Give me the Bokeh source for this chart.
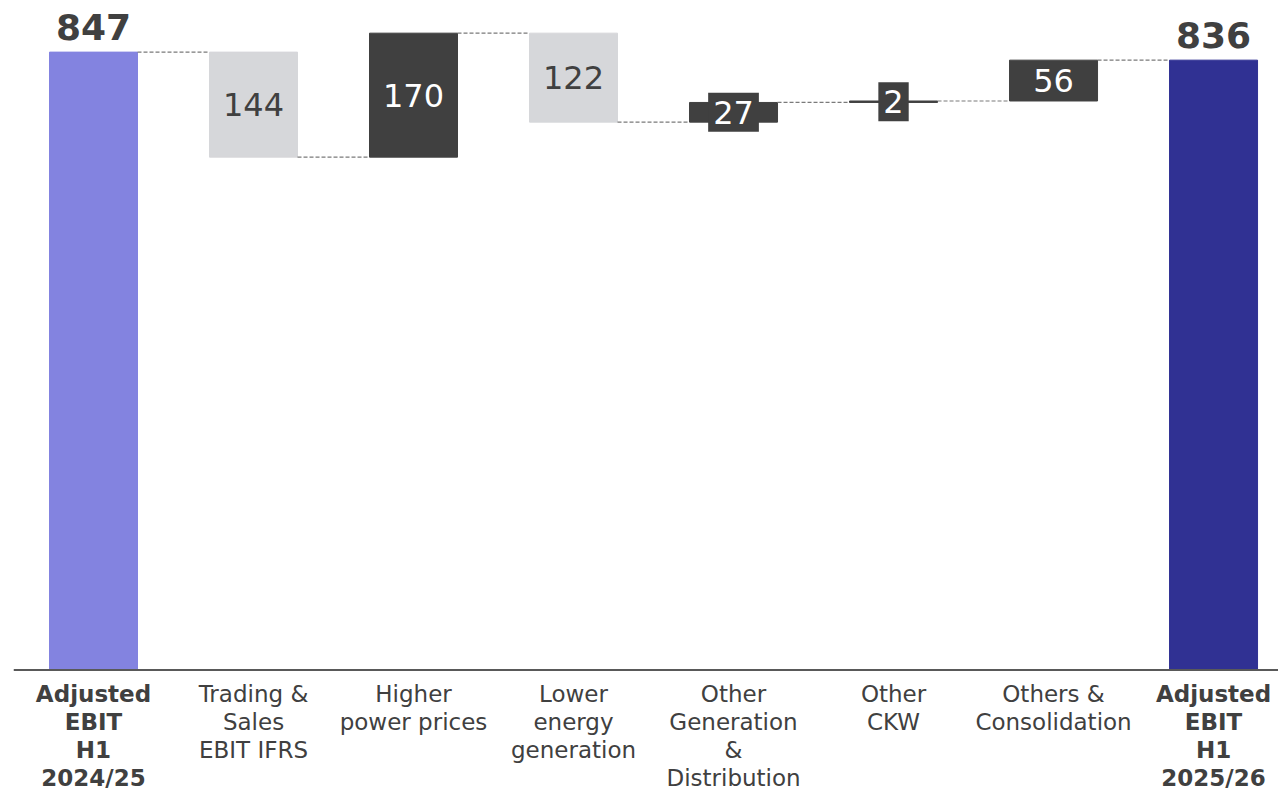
import numpy as np
from bokeh.plotting import figure
from bokeh.models import Range1d, Span, ColumnDataSource
from bokeh.core.properties import value
from bokeh.embed import file_html
from bokeh.resources import INLINE

# ---- data ----
categories = [
    "Adjusted\nEBIT\nH1\n2024/25",
    "Trading &\nSales\nEBIT IFRS",
    "Higher\npower prices",
    "Lower\nenergy\ngeneration",
    "Other\nGeneration\n&\nDistribution",
    "Other\nCKW",
    "Others &\nConsolidation",
    "Adjusted\nEBIT\nH1\n2025/26",
]
start_total = 847
deltas = [-144, 170, -122, 27, 2, 56]
end_total = 836

FONT = value("DejaVu Sans")
TXT = "#404040"

n = len(categories)
xs = np.arange(n)
cum = np.concatenate([[start_total], start_total + np.cumsum(deltas)])

p = figure(width=1278, height=793, output_backend="svg", toolbar_location=None,
           x_range=Range1d(-0.5, 7.406), y_range=Range1d(-169.3, 906.8),
           min_border_left=13, min_border_right=0, min_border_top=8, min_border_bottom=0)
p.outline_line_color = None
p.xgrid.visible = False
p.ygrid.visible = False
p.xaxis.visible = False
p.yaxis.visible = False
p.background_fill_color = "white"
p.border_fill_color = "white"

W = 0.55

# total bars
tot = ColumnDataSource(dict(x=[xs[0], xs[-1]], top=[start_total, end_total],
                            color=["#8383E0", "#303193"],
                            label=[str(start_total), str(end_total)]))
p.vbar(x="x", top="top", bottom=0, width=W, fill_color="color", line_color="color", source=tot)
p.text(x="x", y="top", text="label", source=tot, text_align="center", text_baseline="bottom",
       y_offset=-12, text_font=FONT, text_font_size="36px", text_font_style="bold", text_color=TXT)

# delta bars
dx = xs[1:-1]
bottoms = np.minimum(cum[:-1], cum[1:])
tops = np.maximum(cum[:-1], cum[1:])
colors = ["#D6D7DA" if d < 0 else "#404040" for d in deltas]
src = ColumnDataSource(dict(x=dx, bottom=bottoms, top=tops, color=colors,
                            mid=(bottoms + tops) / 2,
                            label=[str(abs(d)) for d in deltas]))
p.vbar(x="x", top="top", bottom="bottom", width=W, fill_color="color", line_color="color", source=src)

# labels
big = [i for i, d in enumerate(deltas) if abs(d) >= 50]
small = [i for i, d in enumerate(deltas) if abs(d) < 50]
big_src = ColumnDataSource(dict(x=dx[big], y=src.data["mid"][big],
                                label=[src.data["label"][i] for i in big],
                                color=[TXT if deltas[i] < 0 else "white" for i in big]))
p.text(x="x", y="y", text="label", source=big_src, text_align="center", text_baseline="middle",
       text_font=FONT, text_font_size="32px", text_color="color")
small_src = ColumnDataSource(dict(x=dx[small], y=src.data["mid"][small],
                                  label=[src.data["label"][i] for i in small]))
p.text(x="x", y="y", text="label", source=small_src, text_align="center", text_baseline="middle",
       text_font=FONT, text_font_size="32px", text_color="white",
       background_fill_color="#404040",
       padding=dict(left=5, right=5, top=8, bottom=8))

# connectors
p.segment(x0=xs[:-1] + W / 2, x1=xs[1:] - W / 2, y0=cum, y1=cum,
          line_color="#7a7a7a", line_width=1.2, line_dash="4 2")

# baseline
p.add_layout(Span(location=0, dimension="width", line_color="#595959", line_width=2))

# category labels
bold = [0, n - 1]
normal = [i for i in range(n) if i not in bold]
p.text(x=xs[normal], y=[0] * len(normal), text=[categories[i] for i in normal],
       text_align="center", text_baseline="top", y_offset=11,
       text_font=FONT, text_font_size="23px", text_color=TXT, text_line_height=1.08)
p.text(x=xs[bold], y=[0] * len(bold), text=[categories[i] for i in bold],
       text_align="center", text_baseline="top", y_offset=11,
       text_font=FONT, text_font_size="23px", text_font_style="bold", text_color=TXT,
       text_line_height=1.08)

open("out.html", "w").write(file_html(p, INLINE))
